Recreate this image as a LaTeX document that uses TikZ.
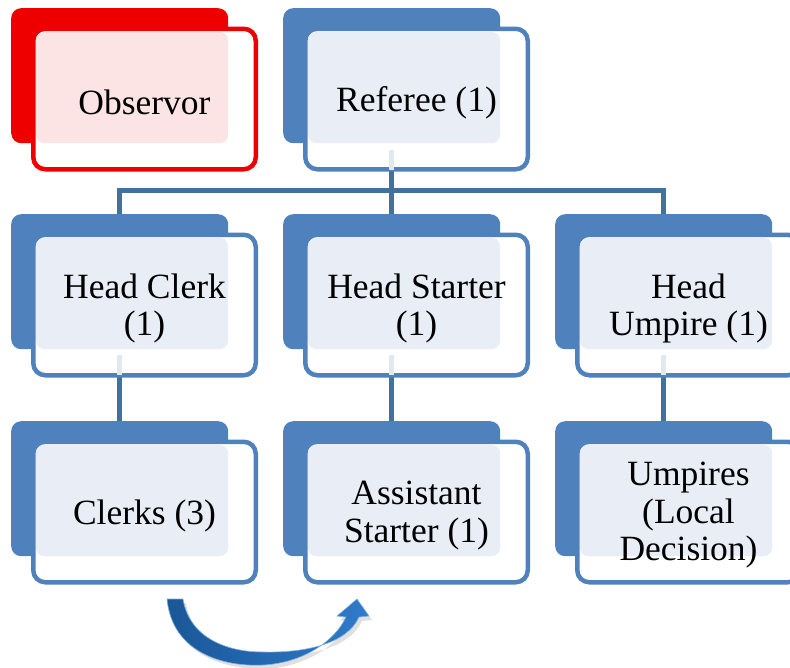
\documentclass[tikz,border=0pt]{standalone}
\usepackage{fontspec}
\setmainfont{Liberation Serif}
\definecolor{bblue}{HTML}{4F81BD}
\definecolor{lblue}{HTML}{E9EEF6}
\definecolor{bred}{HTML}{EE0000}
\definecolor{lred}{HTML}{FCE4E4}
\definecolor{connc}{HTML}{41719C}
\definecolor{palec}{HTML}{E2E8F0}
\definecolor{arrdark}{HTML}{1A5797}
\definecolor{arrlight}{HTML}{2F7BCB}
\tikzset{
  backbox/.style={fill=#1, rounded corners=10pt, inner sep=0pt, minimum width=217pt, minimum height=135pt, anchor=north west},
  frontbox/.style={draw=#1, fill=white, line width=4.5pt, rounded corners=12pt, inner sep=0pt, minimum width=222.5pt, minimum height=140.5pt},
  txt/.style={align=center, font=\fontsize{35.5}{37.5}\selectfont, inner sep=0pt},
  conn/.style={draw=connc, line width=5pt},
  pale/.style={draw=palec, line width=5pt}
}
% #1 name, #2 x, #3 y (top-left of back box), #4 text, #5 dark colour, #6 light colour
\newcommand\orgbox[6]{%
  \node[backbox=#5] (#1B) at (#2,#3) {};
  \node[frontbox=#5] (#1F) at ({#2+133.5},{#3+91}) {};
  \fill[#6, rounded corners=8pt] ({#2+25},{#3+24}) rectangle ({#2+217},{#3+135});
  \node[txt] (#1) at ({#2+133.5},{#3+94.5}) {#4};
}
\begin{document}
\begin{tikzpicture}[x=1pt,y=-1pt]
\useasboundingbox (0,0) rectangle (790,667);
\clip (0,0) rectangle (790,667);
% connectors (behind boxes)
\coordinate (hy) at (0,190);
\coordinate (refC) at (391.5,150);
\coordinate (hcT) at (119.5,214);
\coordinate (hsT) at (391.5,214);
\coordinate (huT) at (663.5,214);
\draw[conn] (refC) -- (hsT);
\draw[conn] (hcT) |- (hy -| refC) -| (huT);
\coordinate (hcC) at (119.5,356);
\coordinate (hsC) at (391.5,356);
\coordinate (huC) at (663.5,356);
\coordinate (clT) at (119.5,421);
\coordinate (asT) at (391.5,421);
\coordinate (umT) at (663.5,421);
\draw[conn] (hcC) -- (clT);
\draw[conn] (hsC) -- (asT);
\draw[conn] (huC) -- (umT);
% boxes
\orgbox{obs}{11}{8}{Observor}{bred}{lred}
\orgbox{ref}{283}{8}{Referee (1)}{bblue}{lblue}
\orgbox{hc}{11}{214}{Head Clerk\\(1)}{bblue}{lblue}
\orgbox{hs}{283}{214}{Head Starter\\(1)}{bblue}{lblue}
\orgbox{hu}{555}{214}{Head\\Umpire (1)}{bblue}{lblue}
\orgbox{cl}{11}{421}{Clerks (3)}{bblue}{lblue}
\orgbox{as}{283}{421}{Assistant\\Starter (1)}{bblue}{lblue}
\orgbox{um}{555}{421}{Umpires\\(Local\\Decision)}{bblue}{lblue}
% pale connector parts inside the front boxes
\draw[pale] (refB.south) ++(0,7) -- ++(0,20);
\draw[pale] (hcB.south) ++(0,6) -- ++(0,20);
\draw[pale] (hsB.south) ++(0,6) -- ++(0,20);
\draw[pale] (huB.south) ++(0,6) -- ++(0,20);
% curved arrow
\coordinate (a0) at (167,599);
\coordinate (a1) at (183,599);
\fill[black, opacity=0.12] ([shift={(3,4)}]a0) .. controls (175,655) and (225,670) .. (266,669)
  .. controls (305,667) and (338,645) .. (349,622) -- (340,620) -- (360,603) -- (372,620) -- (362,621)
  .. controls (350,648) and (308,657) .. (266,656) .. controls (226,656) and (192,640) .. (186,603) -- cycle;
\shade[left color=arrdark, right color=arrlight, draw=arrlight!60, line width=0.6pt]
  (a0) .. controls (172,652) and (222,667) .. (263,665)
  .. controls (303,663) and (335,641) .. (346,617) -- (337,616) -- (357,599) -- (369,616) -- (359,617)
  .. controls (347,644) and (305,653) .. (263,652) .. controls (224,652) and (189,636) .. (a1) -- cycle;
\end{tikzpicture}
\end{document}
